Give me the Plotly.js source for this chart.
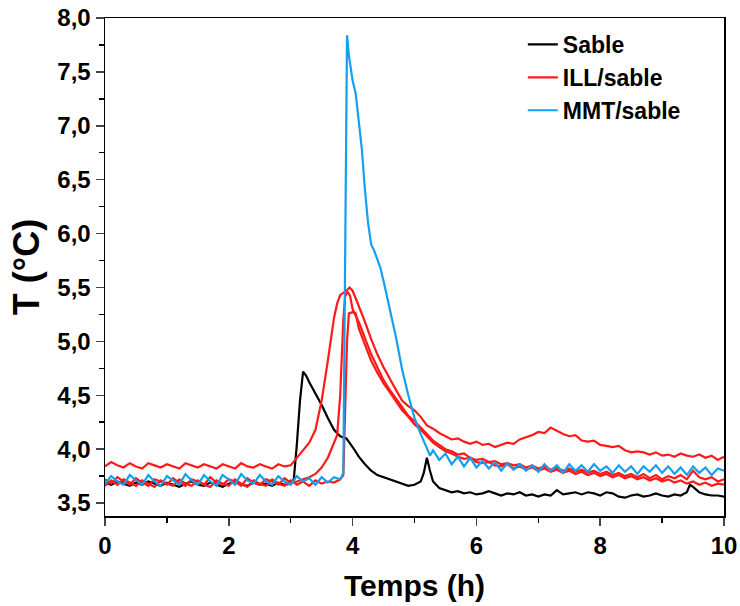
<!DOCTYPE html>
<html>
<head>
<meta charset="utf-8">
<script src="https://cdn.plot.ly/plotly-3.0.1.min.js"></script>
<style>html,body{margin:0;padding:0;background:#fff;}#chart{width:740px;height:606px;}</style>
</head>
<body>
<div id="chart"></div>
<script>
// Sable
const sableT = [0,0.1,0.2,0.3,0.4,0.5,0.6,0.7,0.8,0.9,1.0,1.1,1.2,1.3,1.4,1.5,1.6,1.7,1.8,1.9,2.0,2.1,2.2,2.3,2.4,2.5,2.6,2.7,2.8,2.9,3.0,3.05,3.1,3.15,3.2,3.25,3.3,3.4,3.5,3.6,3.7,3.8,3.9,4.0,4.1,4.2,4.3,4.4,4.5,4.6,4.7,4.8,4.9,5.0,5.1,5.15,5.2,5.25,5.3,5.4,5.5,5.6,5.7,5.8,5.9,6.0,6.1,6.2,6.3,6.4,6.5,6.6,6.7,6.8,6.9,7.0,7.1,7.2,7.3,7.4,7.5,7.6,7.7,7.8,7.9,8.0,8.1,8.2,8.3,8.4,8.5,8.6,8.7,8.8,8.9,9.0,9.1,9.2,9.3,9.4,9.45,9.5,9.6,9.7,9.8,9.9,10.0];
const sableV = [3.69,3.67,3.70,3.68,3.66,3.69,3.67,3.70,3.68,3.66,3.69,3.67,3.65,3.68,3.70,3.67,3.66,3.69,3.67,3.65,3.68,3.70,3.67,3.66,3.69,3.67,3.68,3.66,3.69,3.67,3.68,3.72,4.05,4.45,4.72,4.68,4.62,4.52,4.41,4.29,4.18,4.12,4.10,4.02,3.93,3.86,3.80,3.76,3.74,3.72,3.70,3.68,3.66,3.67,3.70,3.78,3.92,3.80,3.70,3.64,3.62,3.60,3.61,3.59,3.60,3.58,3.59,3.61,3.59,3.57,3.59,3.58,3.60,3.57,3.58,3.56,3.58,3.57,3.62,3.58,3.59,3.60,3.58,3.60,3.59,3.57,3.60,3.59,3.56,3.55,3.57,3.58,3.56,3.57,3.59,3.57,3.56,3.58,3.57,3.60,3.67,3.65,3.60,3.58,3.57,3.57,3.56];

// ILL/sable (three runs)
const ill1T = [0,0.1,0.2,0.3,0.4,0.5,0.6,0.7,0.8,0.9,1.0,1.1,1.2,1.3,1.4,1.5,1.6,1.7,1.8,1.9,2.0,2.1,2.2,2.3,2.4,2.5,2.6,2.7,2.8,2.9,3.0,3.1,3.2,3.3,3.4,3.5,3.6,3.7,3.75,3.8,3.85,3.9,3.95,4.0,4.05,4.1,4.2,4.3,4.4,4.5,4.6,4.7,4.8,4.9,5.0,5.1,5.2,5.3,5.4,5.5,5.6,5.7,5.8,5.9,6.0,6.1,6.2,6.3,6.4,6.5,6.6,6.7,6.8,6.9,7.0,7.1,7.2,7.3,7.4,7.5,7.6,7.7,7.8,7.9,8.0,8.1,8.2,8.3,8.4,8.5,8.6,8.7,8.8,8.9,9.0,9.1,9.2,9.3,9.4,9.5,9.6,9.7,9.8,9.9,10.0];
const ill1V = [3.84,3.88,3.85,3.83,3.87,3.84,3.82,3.87,3.85,3.83,3.86,3.84,3.82,3.87,3.85,3.83,3.86,3.84,3.82,3.86,3.84,3.82,3.87,3.84,3.83,3.86,3.84,3.82,3.86,3.84,3.85,3.92,3.98,4.06,4.18,4.45,4.82,5.22,5.35,5.43,5.45,5.47,5.50,5.47,5.40,5.33,5.18,5.02,4.88,4.76,4.65,4.55,4.45,4.40,4.36,4.30,4.22,4.19,4.15,4.12,4.09,4.10,4.07,4.05,4.07,4.04,4.05,4.02,4.04,4.06,4.05,4.09,4.11,4.13,4.16,4.15,4.20,4.17,4.14,4.12,4.13,4.08,4.07,4.08,4.04,4.03,4.02,4.03,3.99,3.97,3.98,3.97,3.95,3.97,3.94,3.95,3.93,3.96,3.94,3.93,3.95,3.92,3.94,3.90,3.93];

const ill2T = [0,0.1,0.2,0.3,0.4,0.5,0.6,0.7,0.8,0.9,1.0,1.1,1.2,1.3,1.4,1.5,1.6,1.7,1.8,1.9,2.0,2.1,2.2,2.3,2.4,2.5,2.6,2.7,2.8,2.9,3.0,3.1,3.2,3.3,3.4,3.5,3.6,3.7,3.75,3.8,3.85,3.88,3.92,3.96,4.0,4.1,4.2,4.3,4.4,4.5,4.6,4.7,4.8,4.9,5.0,5.1,5.2,5.3,5.4,5.5,5.6,5.7,5.8,5.9,6.0,6.1,6.2,6.3,6.4,6.5,6.6,6.7,6.8,6.9,7.0,7.1,7.2,7.3,7.4,7.5,7.6,7.7,7.8,7.9,8.0,8.1,8.2,8.3,8.4,8.5,8.6,8.7,8.8,8.9,9.0,9.1,9.2,9.3,9.4,9.5,9.6,9.7,9.8,9.9,10.0];
const ill2V = [3.72,3.68,3.74,3.70,3.67,3.73,3.69,3.66,3.72,3.70,3.67,3.73,3.69,3.66,3.72,3.70,3.67,3.74,3.69,3.67,3.72,3.70,3.66,3.73,3.69,3.67,3.72,3.70,3.67,3.73,3.69,3.70,3.72,3.74,3.77,3.83,3.92,4.05,4.13,4.50,5.20,5.42,5.46,5.42,5.30,5.18,5.03,4.88,4.76,4.64,4.55,4.47,4.38,4.31,4.26,4.20,4.13,4.08,4.04,4.00,3.98,3.95,3.96,3.92,3.90,3.91,3.88,3.89,3.86,3.87,3.85,3.86,3.83,3.85,3.82,3.84,3.81,3.83,3.80,3.82,3.79,3.81,3.78,3.80,3.77,3.79,3.76,3.78,3.75,3.77,3.74,3.77,3.73,3.76,3.72,3.75,3.73,3.76,3.72,3.80,3.74,3.72,3.74,3.70,3.72];

const ill3T = [0,0.1,0.2,0.3,0.4,0.5,0.6,0.7,0.8,0.9,1.0,1.1,1.2,1.3,1.4,1.5,1.6,1.7,1.8,1.9,2.0,2.1,2.2,2.3,2.4,2.5,2.6,2.7,2.8,2.9,3.0,3.1,3.2,3.3,3.4,3.5,3.6,3.7,3.8,3.85,3.88,3.91,3.94,4.0,4.05,4.1,4.2,4.3,4.4,4.5,4.6,4.7,4.8,4.9,5.0,5.1,5.2,5.3,5.4,5.5,5.6,5.7,5.8,5.9,6.0,6.1,6.2,6.3,6.4,6.5,6.6,6.7,6.8,6.9,7.0,7.1,7.2,7.3,7.4,7.5,7.6,7.7,7.8,7.9,8.0,8.1,8.2,8.3,8.4,8.5,8.6,8.7,8.8,8.9,9.0,9.1,9.2,9.3,9.4,9.5,9.6,9.7,9.8,9.9,10.0];
const ill3V = [3.66,3.71,3.67,3.72,3.69,3.66,3.71,3.68,3.65,3.71,3.68,3.66,3.72,3.68,3.66,3.71,3.67,3.65,3.71,3.68,3.66,3.72,3.68,3.65,3.71,3.68,3.66,3.72,3.68,3.66,3.71,3.67,3.70,3.66,3.71,3.68,3.70,3.69,3.72,3.76,4.30,5.00,5.26,5.27,5.26,5.12,4.97,4.82,4.71,4.61,4.53,4.44,4.36,4.30,4.23,4.18,4.12,4.06,4.02,3.98,3.96,3.93,3.91,3.92,3.88,3.87,3.88,3.85,3.84,3.86,3.82,3.84,3.81,3.83,3.80,3.82,3.79,3.81,3.78,3.80,3.77,3.79,3.76,3.78,3.75,3.77,3.74,3.76,3.73,3.75,3.72,3.74,3.71,3.73,3.70,3.72,3.69,3.71,3.68,3.70,3.67,3.69,3.66,3.68,3.67];

// MMT/sable
const mmtT = [0,0.1,0.2,0.3,0.4,0.5,0.6,0.7,0.8,0.9,1.0,1.1,1.2,1.3,1.4,1.5,1.6,1.7,1.8,1.9,2.0,2.1,2.2,2.3,2.4,2.5,2.6,2.7,2.8,2.9,3.0,3.1,3.2,3.3,3.4,3.5,3.6,3.7,3.8,3.85,3.87,3.89,3.91,3.94,3.97,4.0,4.05,4.1,4.15,4.2,4.25,4.3,4.35,4.4,4.45,4.5,4.6,4.7,4.8,4.9,5.0,5.1,5.2,5.25,5.3,5.4,5.5,5.6,5.7,5.8,5.9,6.0,6.1,6.2,6.3,6.4,6.5,6.6,6.7,6.8,6.9,7.0,7.1,7.2,7.3,7.4,7.5,7.6,7.7,7.8,7.9,8.0,8.1,8.2,8.3,8.4,8.5,8.6,8.7,8.8,8.9,9.0,9.1,9.2,9.3,9.4,9.5,9.6,9.7,9.8,9.9,10.0];
const mmtV = [3.68,3.75,3.70,3.67,3.76,3.71,3.67,3.76,3.70,3.66,3.75,3.71,3.67,3.77,3.71,3.67,3.76,3.70,3.66,3.76,3.72,3.67,3.77,3.71,3.68,3.76,3.70,3.67,3.75,3.70,3.67,3.75,3.70,3.73,3.67,3.74,3.69,3.74,3.72,3.78,5.20,6.80,7.84,7.65,7.52,7.42,7.30,7.05,6.78,6.40,6.10,5.90,5.84,5.76,5.68,5.56,5.30,5.04,4.74,4.50,4.29,4.14,4.01,3.94,3.99,3.90,3.96,3.86,3.93,3.84,3.92,3.83,3.89,3.82,3.88,3.80,3.87,3.81,3.86,3.80,3.85,3.79,3.86,3.80,3.85,3.78,3.86,3.80,3.85,3.79,3.86,3.80,3.84,3.78,3.85,3.79,3.84,3.77,3.84,3.79,3.85,3.78,3.84,3.77,3.83,3.76,3.84,3.78,3.83,3.76,3.82,3.80];

const seriesNames = ['Sable', 'ILL/sable', 'MMT/sable'];
const seriesColors = ['#000000', '#ff1a1a', '#14a0f0'];
const yTickVals = [3.5,4.0,4.5,5.0,5.5,6.0,6.5,7.0,7.5,8.0];
const yTickText = ['3,5','4,0','4,5','5,0','5,5','6,0','6,5','7,0','7,5','8,0'];
const xTickVals = [0,2,4,6,8,10];

const lw = 2.2;
const traces = [
  {x: sableT, y: sableV, name: seriesNames[0], mode:'lines', line:{color:seriesColors[0], width:lw}, legendrank:1},
  {x: ill1T, y: ill1V, name: seriesNames[1], mode:'lines', line:{color:seriesColors[1], width:lw}, legendgroup:'ill', legendrank:2},
  {x: ill2T, y: ill2V, name: seriesNames[1], mode:'lines', line:{color:seriesColors[1], width:lw}, legendgroup:'ill', showlegend:false},
  {x: ill3T, y: ill3V, name: seriesNames[1], mode:'lines', line:{color:seriesColors[1], width:lw}, legendgroup:'ill', showlegend:false},
  {x: mmtT, y: mmtV, name: seriesNames[2], mode:'lines', line:{color:seriesColors[2], width:lw}, legendrank:3}
];

const fam = 'Liberation Sans, Arial, sans-serif';
const layout = {
  width: 740, height: 606,
  margin: {l:105, r:16, t:18, b:90},
  paper_bgcolor:'#fff', plot_bgcolor:'#fff',
  font: {family: fam, color:'#000'},
  showlegend: true,
  legend: {x:0.675, y:0.99, xanchor:'left', yanchor:'top', bgcolor:'rgba(0,0,0,0)',
           font:{family:fam, size:23, weight:'bold', color:'#000'}, tracegroupgap:0, itemwidth:30},
  xaxis: {range:[0,10], tickvals:xTickVals, ticks:'outside', ticklen:8, tickwidth:1.5,
          minor:{dtick:1, ticks:'outside', ticklen:5, tickwidth:1.5, tickcolor:'#000'},
          showline:true, linecolor:'#000', linewidth:1.5, mirror:true, showgrid:false, zeroline:false,
          tickfont:{family:fam, size:24, weight:'bold', color:'#000'},
          title:{text:'Temps (h)', font:{family:fam, size:30, weight:'bold', color:'#000'}, standoff:16}},
  yaxis: {range:[3.38,8.0], tickvals:yTickVals, ticktext:yTickText, ticks:'outside', ticklen:8, tickwidth:1.5,
          minor:{dtick:0.25, ticks:'outside', ticklen:5, tickwidth:1.5, tickcolor:'#000'},
          showline:true, linecolor:'#000', linewidth:1.5, mirror:true, showgrid:false, zeroline:false,
          tickfont:{family:fam, size:24, weight:'bold', color:'#000'},
          title:{text:'T (°C)', font:{family:fam, size:36, weight:'bold', color:'#000'}, standoff:6}}
};

Plotly.newPlot('chart', traces, layout, {displayModeBar:false, staticPlot:true});
</script>
</body>
</html>
